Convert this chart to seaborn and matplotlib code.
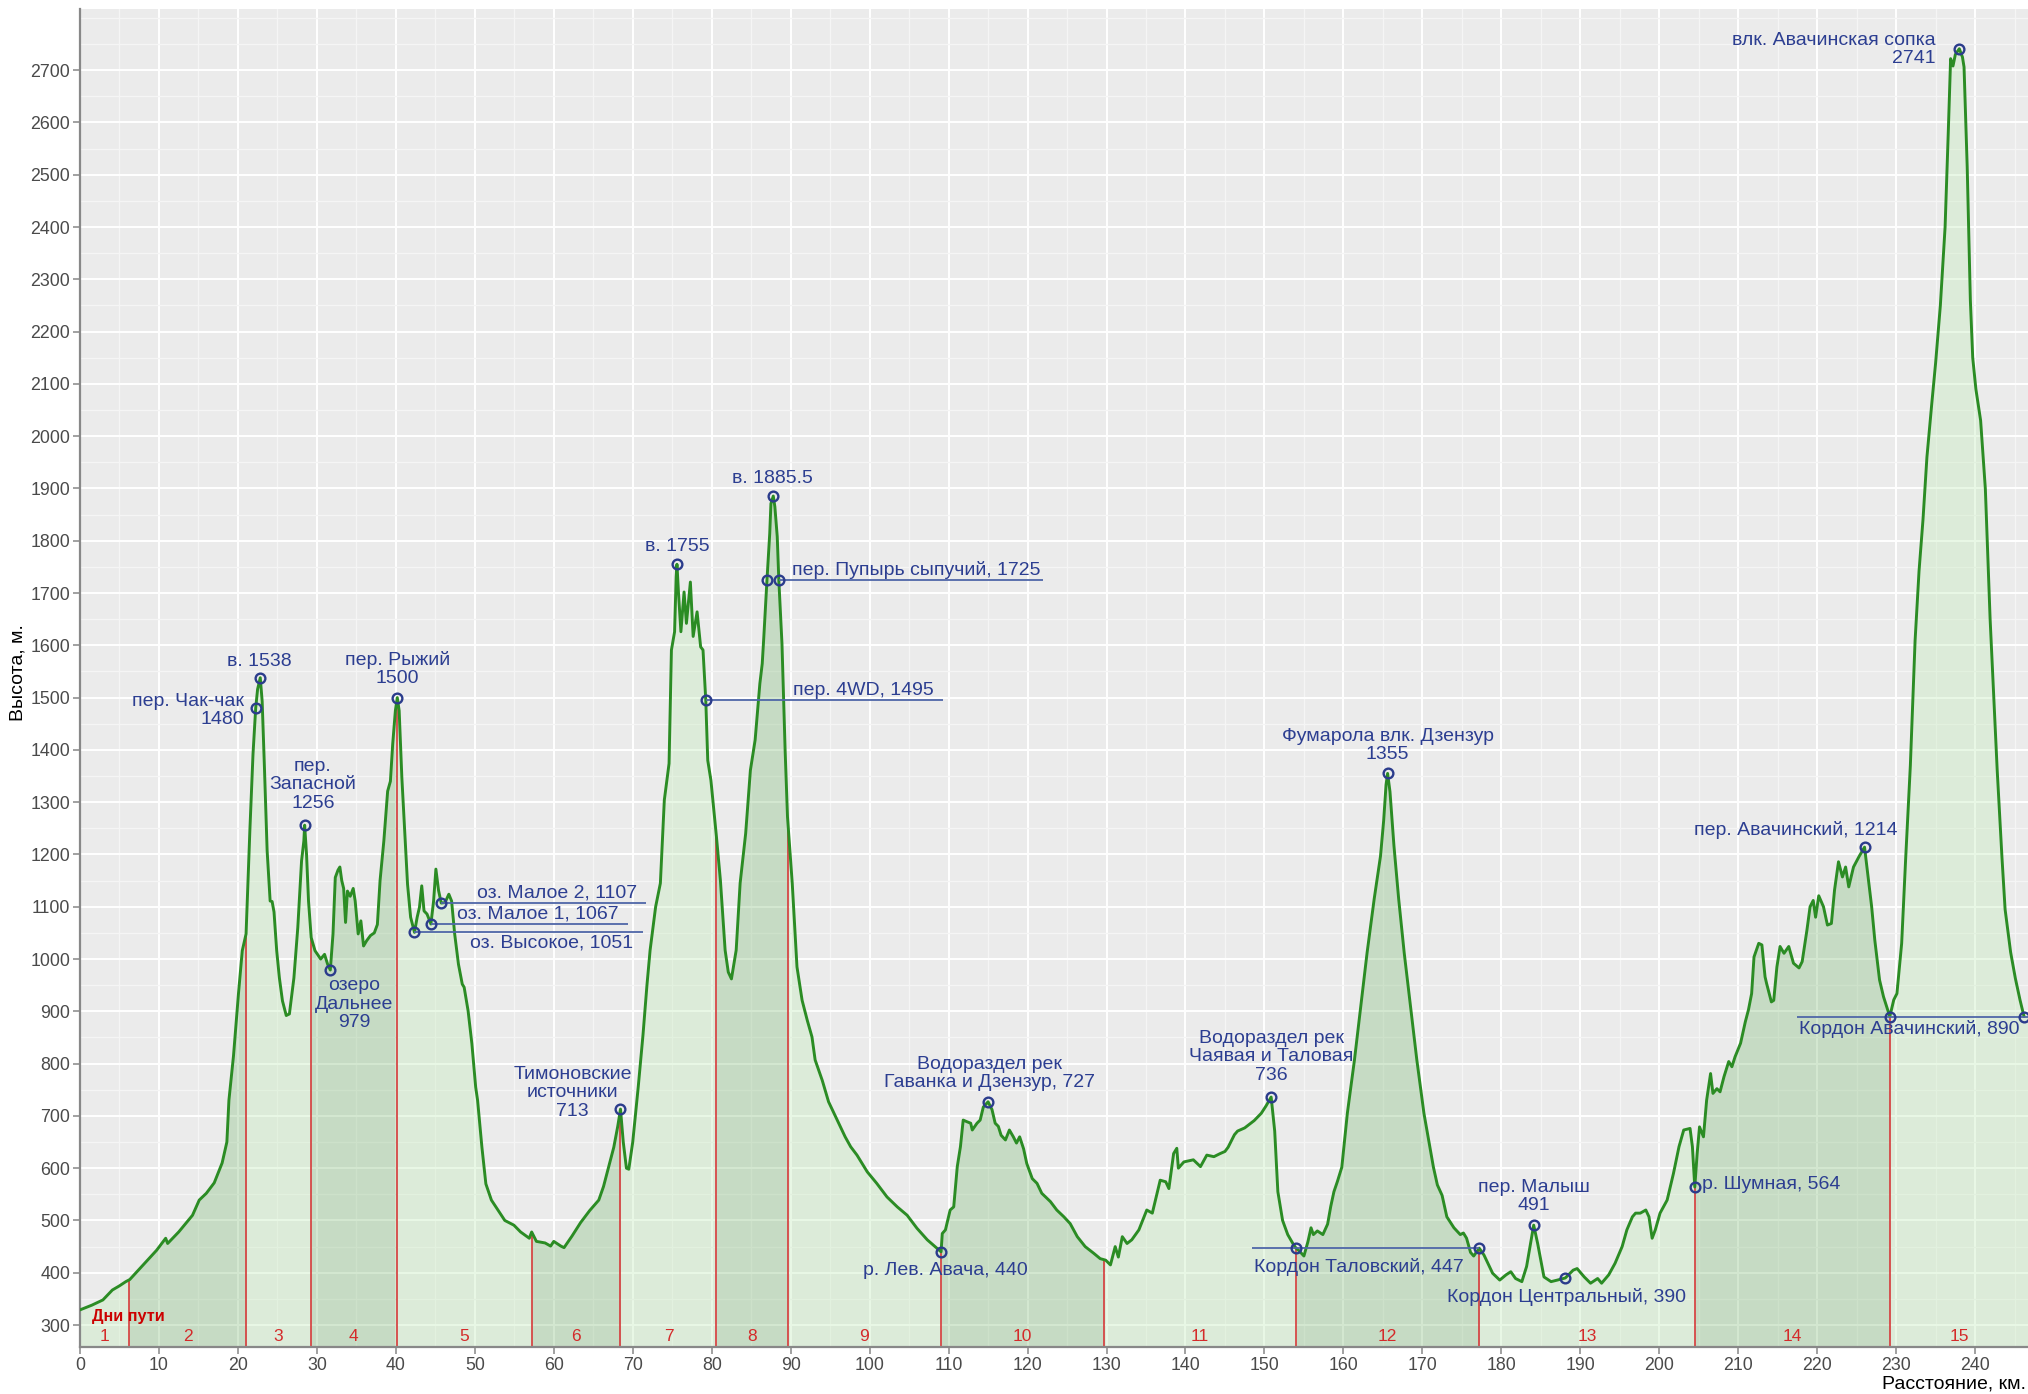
import numpy as np
import matplotlib
matplotlib.use("Agg")
import matplotlib.pyplot as plt
from matplotlib.ticker import MultipleLocator
import seaborn as sns

# ---------------- data ----------------
profile_km = [
    0.0, 1.5, 2.9, 4.1, 5.0, 5.8, 6.3, 8.0, 9.7, 10.85, 11.1, 12.5, 14.25, 15.1, 16.0, 17.0, 18.0, 18.6, 18.86, 19.44,
    20.07, 20.55, 21.03, 21.51, 21.91, 22.25, 22.49, 22.83, 23.07, 23.36, 23.7, 24.08, 24.33, 24.57, 24.91, 25.25,
    25.64, 26.12, 26.52, 27.09, 27.58, 28.06, 28.35, 28.45, 28.69, 28.94, 29.28, 29.76, 30.48, 30.97, 31.36, 31.7,
    32.04, 32.33, 32.67, 32.91, 33.15, 33.39, 33.63, 33.87, 34.22, 34.6, 34.85, 35.23, 35.57, 35.91, 36.3, 36.79,
    37.27, 37.66, 38.0, 38.48, 38.96, 39.31, 39.6, 39.94, 40.18, 40.42, 40.76, 41.14, 41.48, 41.87, 42.36, 42.7,
    42.99, 43.28, 43.57, 43.95, 44.44, 44.78, 45.07, 45.41, 45.75, 46.23, 46.71, 47.06, 47.45, 47.93, 48.41, 48.65,
    49.15, 49.63, 50.11, 50.35, 50.9, 51.4, 52.1, 53.8, 54.95, 55.8, 56.9, 57.2, 57.8, 58.9, 59.6, 60.0, 60.9, 61.3,
    62.3, 63.4, 64.55, 65.7, 66.3, 66.9, 67.6, 68.1, 68.45, 68.8, 69.2, 69.5, 70.0, 70.7, 71.3, 71.8, 72.2, 72.9,
    73.5, 74.0, 74.6, 74.9, 75.3, 75.5, 75.6, 75.8, 76.1, 76.5, 76.8, 77.3, 77.65, 78.15, 78.6, 78.9, 79.25, 79.5,
    79.9, 80.6, 81.1, 81.7, 82.1, 82.5, 83.1, 83.6, 84.3, 84.9, 85.5, 86.1, 86.4, 86.6, 87.0, 87.35, 87.5, 87.8,
    88.0, 88.3, 88.5, 88.9, 89.3, 89.6, 90.2, 90.8, 91.45, 92.1, 92.7, 93.1, 94.0, 94.8, 95.9, 96.9, 97.6, 98.4,
    99.7, 100.9, 102.2, 103.5, 104.75, 106.0, 107.3, 109.05, 109.2, 109.6, 110.2, 110.65, 111.1, 111.5, 111.85,
    112.3, 112.8, 113.0, 113.6, 114.0, 114.4, 115.0, 115.5, 115.9, 116.3, 116.65, 117.2, 117.7, 118.2, 118.6, 119.0,
    119.5, 119.9, 120.6, 121.2, 121.8, 122.9, 123.7, 124.6, 125.4, 126.3, 127.3, 128.4, 129.2, 129.9, 130.5, 131.1,
    131.5, 132.0, 132.6, 133.2, 134.1, 135.1, 135.8, 136.8, 137.5, 137.9, 138.5, 138.9, 139.1, 139.8, 141.0, 141.9,
    142.7, 143.6, 144.4, 145.0, 145.4, 146.2, 146.6, 147.5, 148.7, 149.6, 150.2, 150.85, 151.3, 151.7, 152.3, 152.95,
    153.6, 154.0, 154.4, 155.0, 155.5, 155.9, 156.2, 156.7, 157.4, 158.0, 158.4, 158.8, 159.25, 159.8, 160.5, 161.4,
    162.2, 163.0, 163.9, 164.7, 165.1, 165.4, 165.6, 165.9, 166.4, 167.0, 167.7, 168.5, 169.3, 170.2, 171.0, 171.4,
    171.9, 172.5, 173.1, 174.0, 174.8, 175.2, 175.6, 176.1, 176.5, 177.2, 177.8, 178.9, 179.8, 180.6, 181.2, 181.8,
    182.6, 183.2, 183.7, 184.1, 184.6, 185.4, 186.3, 187.1, 188.1, 189.1, 189.6, 190.5, 191.3, 192.2, 192.7, 193.6,
    194.4, 195.3, 195.9, 196.6, 197.0, 197.6, 198.3, 198.7, 199.1, 199.5, 200.1, 201.0, 201.8, 202.5, 203.1, 203.9,
    204.2, 204.5, 204.8, 205.1, 205.6, 206.0, 206.5, 206.8, 207.3, 207.7, 208.2, 208.8, 209.2, 209.6, 210.3, 210.9,
    211.3, 211.7, 212.0, 212.6, 213.0, 213.4, 213.6, 214.2, 214.5, 214.9, 215.3, 215.8, 216.4, 217.0, 217.7, 218.1,
    218.7, 219.1, 219.5, 219.8, 220.2, 220.8, 221.3, 221.8, 222.2, 222.7, 223.2, 223.6, 224.0, 224.6, 225.3, 226.0,
    226.5, 226.9, 227.3, 227.9, 228.4, 229.2, 229.7, 230.1, 230.7, 231.2, 231.8, 232.4, 232.9, 233.4, 233.9, 234.5,
    235.0, 235.6, 236.2, 236.6, 236.9, 237.2, 237.5, 238.0, 238.4, 238.6, 239.0, 239.4, 239.7, 240.1, 240.7, 241.3,
    241.9, 242.8, 243.4, 243.8, 244.5, 245.1, 245.7, 246.2,
]
profile_elev = [
    329, 338, 348, 367, 375, 383, 387, 415, 443, 466, 456, 478, 510, 539, 552, 572, 610, 650, 730, 815,
    934, 1016, 1048, 1245, 1392, 1480, 1516, 1538, 1493, 1365, 1207, 1111, 1110, 1090, 1016, 964,
    920, 892, 895, 964, 1060, 1188, 1226, 1256, 1200, 1111, 1041, 1016, 1000, 1009, 990, 979,
    1048, 1156, 1170, 1176, 1150, 1135, 1070, 1130, 1120, 1135, 1111, 1048, 1073, 1025, 1035, 1045,
    1050, 1066, 1150, 1226, 1321, 1340, 1411, 1475, 1500, 1475, 1347, 1239, 1143, 1080, 1051, 1080,
    1099, 1140, 1092, 1086, 1067, 1111, 1172, 1131, 1107, 1108, 1124, 1111, 1048, 990, 952, 946,
    901, 838, 755, 730, 640, 570, 539, 500, 491, 478, 466, 478, 460, 457, 451, 460, 451, 448,
    470, 496, 519, 539, 565, 600, 640, 680, 713, 650, 600, 598, 650, 756, 855, 950, 1017, 1100,
    1145, 1304, 1374, 1591, 1626, 1731, 1755, 1699, 1626, 1702, 1642, 1721, 1617, 1664, 1597, 1591, 1495, 1380,
    1342, 1234, 1151, 1017, 975, 962, 1017, 1145, 1240, 1361, 1419, 1527, 1565, 1616, 1725, 1814, 1871, 1885.5,
    1865, 1808, 1725, 1603, 1399, 1272, 1145, 985, 921, 883, 851, 807, 768, 727, 692, 660, 641, 625,
    593, 571, 545, 526, 510, 485, 463, 440, 475, 482, 520, 526, 603, 641, 692,
    689, 686, 673, 686, 692, 717, 727, 712, 686, 680, 663, 654, 673, 660, 648, 660,
    637, 609, 580, 571, 552, 536, 520, 507, 494, 469, 450, 437, 427, 424, 415, 450,
    430, 469, 456, 463, 482, 520, 514, 577, 574, 561, 628, 638, 600, 612, 616, 603,
    625, 622, 628, 632, 640, 664, 671, 677, 691, 705, 719, 736, 671, 555, 500, 473,
    456, 447, 442, 432, 459, 486, 473, 480, 473, 493, 527, 555, 575, 602, 705, 807,
    910, 1012, 1115, 1197, 1265, 1333, 1355, 1320, 1217, 1115, 1012, 910, 807, 705, 637, 602,
    568, 548, 507, 486, 473, 476, 466, 439, 432, 447, 434, 399, 386, 396, 402, 389,
    383, 412, 456, 491, 456, 392, 383, 386, 390, 405, 408, 392, 380, 389, 380, 396,
    418, 450, 482, 507, 514, 514, 520, 507, 466, 482, 514, 539, 590, 641, 673, 676,
    641, 564, 628, 679, 660, 730, 781, 743, 752, 746, 775, 804, 794, 813, 839, 880,
    903, 934, 1004, 1030, 1027, 966, 953, 918, 921, 985, 1024, 1011, 1024, 992, 983, 995,
    1055, 1100, 1112, 1080, 1121, 1100, 1065, 1068, 1132, 1186, 1157, 1176, 1138, 1176, 1196, 1214,
    1151, 1100, 1036, 960, 928, 890, 922, 934, 1030, 1190, 1370, 1609, 1742, 1840, 1960, 2060,
    2140, 2250, 2400, 2580, 2722, 2708, 2730, 2741, 2725, 2706, 2515, 2260, 2150, 2090, 2030, 1899,
    1651, 1361, 1195, 1095, 1013, 963, 921, 890,
]

# day boundaries (km) and day numbers
day_bounds = [0, 6.15, 21.08, 29.2, 40.1, 57.2, 68.45, 80.6, 89.65, 109.05, 129.7, 154.0, 177.2, 204.5, 229.2, 246.7]
day_names = [str(i) for i in range(1, 16)]

# points of interest (markers)
poi_km = [22.25, 22.83, 28.45, 31.7, 40.18, 42.36, 44.44, 45.75, 68.45, 75.6, 79.25, 87.0, 87.8, 88.5,
          109.05, 115.0, 150.85, 154.0, 165.6, 177.2, 184.1, 188.1, 204.5, 226.0, 229.2, 238.0, 246.2]
poi_elev = [1480, 1538, 1256, 979, 1500, 1051, 1067, 1107, 713, 1755, 1495, 1725, 1885.5, 1725,
            440, 727, 736, 447, 1355, 447, 491, 390, 564, 1214, 890, 2741, 890]

# labels: text, x, y, horizontal alignment
label_texts = [
    "в. 1538", "пер. Чак-чак\n1480", "пер.\nЗапасной\n1256", "озеро\nДальнее\n979", "пер. Рыжий\n1500",
    "оз. Малое 2, 1107", "оз. Малое 1, 1067", "оз. Высокое, 1051", "Тимоновские\nисточники\n713",
    "в. 1755", "в. 1885.5", "пер. Пупырь сыпучий, 1725", "пер. 4WD, 1495", "р. Лев. Авача, 440",
    "Водораздел рек\nГаванка и Дзензур, 727", "Водораздел рек\nЧаявая и Таловая\n736",
    "Фумарола влк. Дзензур\n1355", "Кордон Таловский, 447", "пер. Малыш\n491", "Кордон Центральный, 390",
    "р. Шумная, 564", "пер. Авачинский, 1214", "Кордон Авачинский, 890", "влк. Авачинская сопка\n2741",
]
label_x = [22.7, 20.8, 29.5, 34.75, 40.2, 70.5, 68.2, 70.1, 62.4, 75.6, 87.7, 90.2, 90.3, 109.6,
           115.2, 150.85, 165.6, 161.9, 184.1, 188.3, 205.4, 217.3, 231.7, 235.0]
label_y = [1570, 1476, 1333, 914, 1555, 1126, 1087, 1030, 744, 1789, 1919, 1745, 1514, 405,
           781, 813, 1409, 411, 546, 353, 569, 1247, 867, 2740]
label_ha = ["center", "right", "center", "center", "center", "right", "right", "right", "center",
            "center", "center", "left", "left", "center", "center", "center", "center", "center",
            "center", "center", "left", "center", "center", "right"]

# horizontal leader lines: start km, end km, elevation
leader_x0 = [45.75, 44.44, 42.36, 88.5, 79.25, 148.4, 217.4]
leader_x1 = [71.7, 69.4, 71.3, 122.0, 109.3, 177.2, 246.7]
leader_y = [1107, 1067, 1051, 1725, 1495, 447, 890]

# ---------------- style ----------------
sns.set_theme(style="whitegrid")
plt.rcParams["font.family"] = ["Liberation Sans", "DejaVu Sans"]

W, H = 2028, 1394
fig = plt.figure(figsize=(W / 100, H / 100), dpi=100)
fig.patch.set_facecolor("white")
ax = fig.add_axes([80 / W, 47 / H, (W - 80) / W, 1338 / H])
ax.set_facecolor("#EBEBEB")

YMIN, YMAX = 258, 2817
ax.set_xlim(0, 246.7)
ax.set_ylim(YMIN, YMAX)

km = np.array(profile_km, dtype=float)
el = np.array(profile_elev, dtype=float)

ax.set_axisbelow(True)
ax.set_xticks(np.arange(0, 241, 10))
ax.set_yticks(np.arange(300, 2701, 100))
ax.xaxis.set_minor_locator(MultipleLocator(5))
ax.yaxis.set_minor_locator(MultipleLocator(50))
ax.grid(which="major", color="white", lw=1.4)
ax.grid(which="minor", color="#F5F5F5", lw=1.0)

# day fills
light, dark = "#C3EBBA", "#87C080"
for i in range(len(day_bounds) - 1):
    a, b = day_bounds[i], day_bounds[i + 1]
    inner = km[(km > a) & (km < b)]
    xs = np.concatenate([[a], inner, [b]])
    ys = np.interp(xs, km, el)
    ax.fill_between(xs, YMIN, ys, color=light if i % 2 == 0 else dark, alpha=0.36, lw=0, zorder=1)
    ax.text((a + b) / 2, 279, day_names[i], color="#D42A2A", fontsize=12.5, ha="center", va="center", zorder=6)

# red day separators up to the profile
inner_b = np.array(day_bounds[1:-1])
ax.vlines(inner_b, YMIN, np.interp(inner_b, km, el), color="#D63A3A", lw=1.2, zorder=2)

ax.text(1.5, 316, "Дни пути", color="#CC0000", fontsize=11.7, fontweight="bold", ha="left", va="center", zorder=6)

# profile line
sns.lineplot(x=km, y=el, ax=ax, color="#2B8C24", lw=2.1, sort=False, estimator=None, zorder=3)

# leader lines
ax.hlines(leader_y, leader_x0, leader_x1, color="#4F67A8", lw=1.3, zorder=4)

# markers
ax.plot(poi_km, poi_elev, "o", ms=7, mfc="none", mec="#2B3C8C", mew=1.7, zorder=5, clip_on=False)

# labels
txt_color = "#2C3E91"
for t, x, y, ha in zip(label_texts, label_x, label_y, label_ha):
    ax.text(x, y, t, color=txt_color, fontsize=14, ha=ha, va="center", multialignment=ha, zorder=6,
            linespacing=1.1)

# axes styling
for s in ["top", "right"]:
    ax.spines[s].set_visible(False)
for s in ["left", "bottom"]:
    ax.spines[s].set_color("#888888")
    ax.spines[s].set_linewidth(1.6)
ax.tick_params(which="major", length=5, width=1.1, color="#888888", labelsize=12.8, labelcolor="#4A4A4A", pad=2,
               bottom=True, left=True)
ax.tick_params(which="minor", length=0)
ax.set_xlabel("")
ax.set_ylabel("")

fig.text(18 / W, 1 - 673 / H, "Высота, м.", rotation=90, fontsize=14, color="black", ha="center", va="center")
fig.text(2026 / W, 1 - 1384 / H, "Расстояние, км.", fontsize=14, color="black", ha="right", va="center")

fig.savefig("out.png", dpi=100)
